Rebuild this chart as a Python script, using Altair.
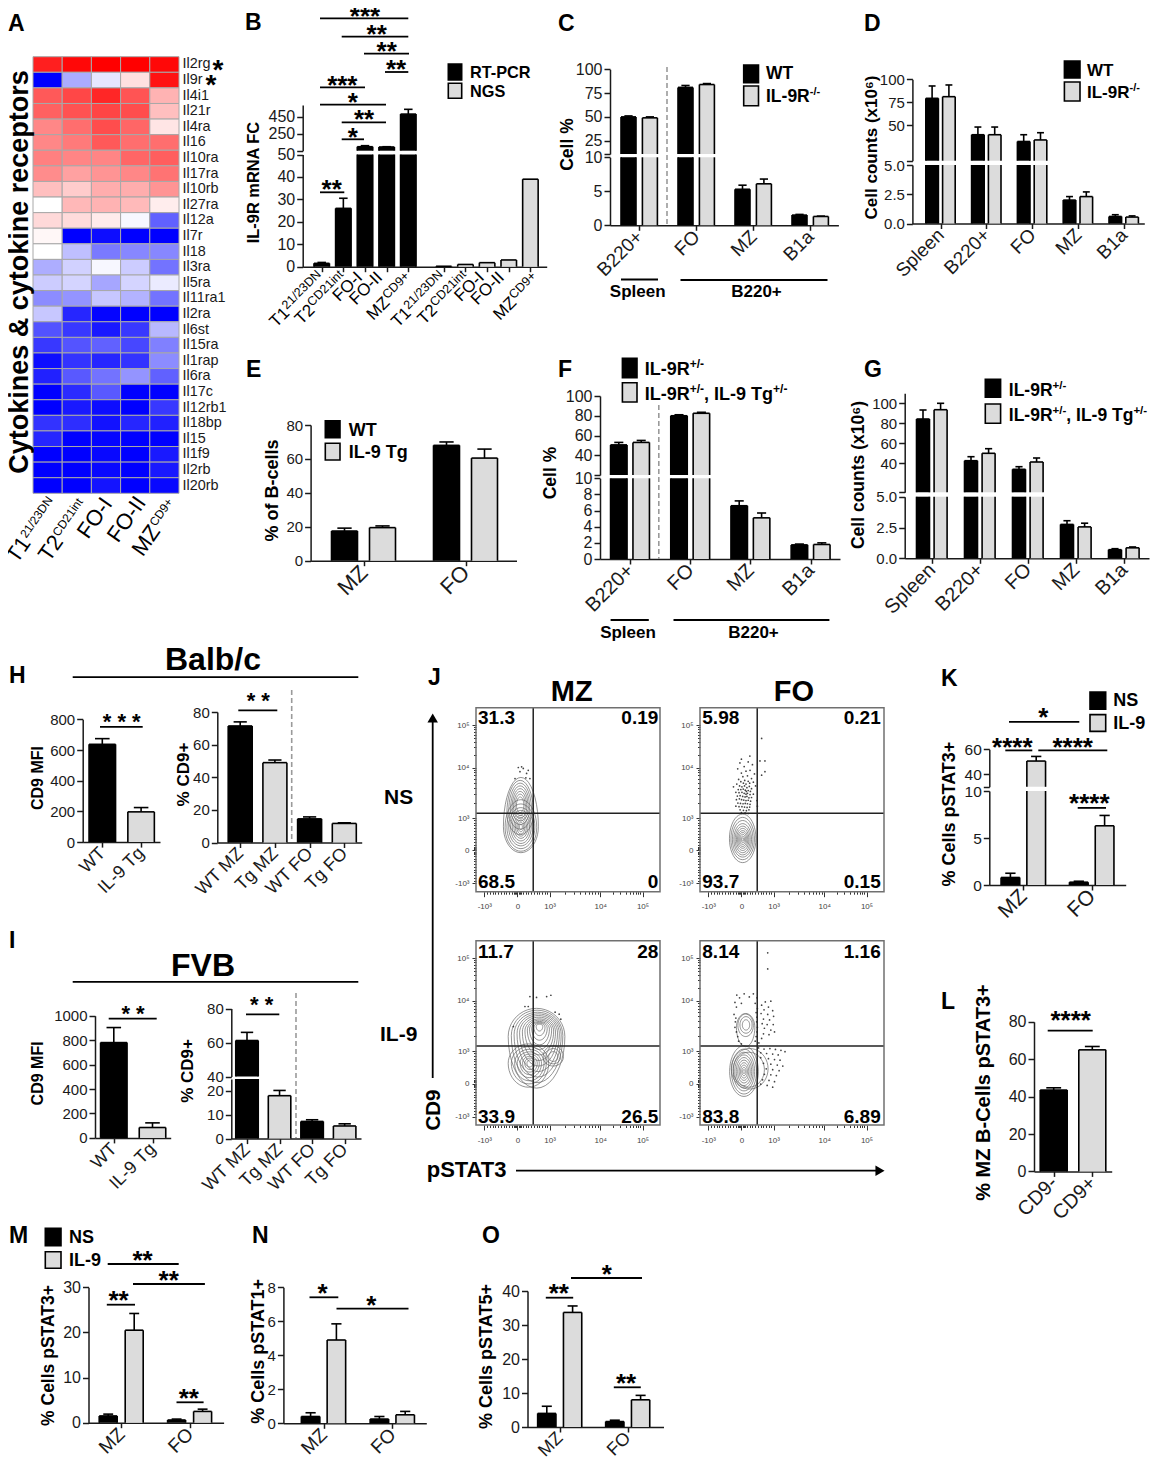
import math, json
import numpy as np
import pandas as pd
import altair as alt

FONT = "Liberation Sans"
BLACK = "#000000"
GRAY = "#dcdcdc"
INK = "#1a1a1a"
W, H = 1142, 1451

# ---------- Panel A ----------
A_rows = ["Il2rg","Il9r","Il4i1","Il21r","Il4ra","Il16","Il10ra","Il17ra","Il10rb","Il27ra","Il12a","Il7r","Il18","Il3ra",
          "Il5ra","Il11ra1","Il2ra","Il6st","Il15ra","Il1rap","Il6ra","Il17c","Il12rb1","Il18bp","Il15","Il1f9","Il2rb","Il20rb"]
A_cols = ["T1","T2","FO-I","FO-II","MZ"]
A_vals = [
 [.88,.97,1,1,.97],[-1,-.33,-.1,.12,.93],[.65,.72,.85,.67,.3],[.62,.68,.73,.7,.25],[.47,.57,.7,.6,.1],
 [.47,.52,.65,.57,.57],[.5,.48,.48,.6,.63],[.45,.37,.42,.47,.55],[.25,.2,.32,.32,.42],[0,.28,.3,.27,.07],
 [.15,.14,.08,-.03,-.62],[.03,-1,-.95,-1,-1],[0,-.25,-.52,-.47,-.47],[-.32,-.18,-.03,-.2,-.55],[-.2,-.17,-.35,-.17,-.08],
 [-.45,-.42,-.22,-.3,-.55],[-.22,-.85,-.98,-1,-1],[-.68,-.78,-.9,-.78,-.28],[-.78,-.67,-.62,-.72,-.5],[-.95,-.8,-.85,-.8,-.45],
 [-.87,-.65,-.55,-.42,-.62],[-1,-.83,-.65,-1,-1],[-1,-.9,-.95,-1,-.78],[-.8,-.82,-.93,-.85,-.87],[-.85,-1,-.98,-1,-1],
 [-1,-1,-.97,-1,-.9],[-1,-1,-.97,-1,-.9],[-1,-1,-.92,-1,-.97]]

# ---------- Bar panels: heights and upper error limits ----------
B_vals = [1.5,26,103,100,480,.2,1,1.8,3,39]
B_tops = [1.9,30.5,115,103,535,.2,1,1.8,3,39]
C_groups = ["B220+","FO","MZ","B1a"]
C_wt, C_wt_top = [50,81,5.3,1.5],[51,83,5.9,1.6]
C_ko, C_ko_top = [49,84,6.1,1.3],[50,85,6.8,1.35]
D_groups = ["Spleen","B220+","FO","MZ","B1a"]
D_wt, D_wt_top = [79.2,39.4,32,2.0,.6],[92.7,47.8,39.4,2.3,.75]
D_ko, D_ko_top = [81,39.4,33.7,2.3,.55],[93.8,47.8,41.6,2.7,.65]
E_groups = ["MZ","FO"]
E_wt, E_wt_top = [17.5,68],[19.2,70]
E_tg, E_tg_top = [19.5,60.5],[20.5,65.8]
F_het, F_het_top = [50.5,80,6.6,1.75],[53,81,7.2,1.85]
F_tg, F_tg_top = [53,82.5,5.1,1.8],[55,83.5,5.7,2.0]
G_het, G_het_top = [84.3,42.6,34,2.75,.7],[93.3,46.6,36.6,3.05,.78]
G_tg, G_tg_top = [93.6,50,41.3,2.55,.85],[100,54.6,45.3,2.85,.92]
H1_groups = ["WT","IL-9 Tg"]
H1_vals, H1_tops = [637,197],[674,225]
H2_groups = ["WT MZ","Tg MZ","WT FO","Tg FO"]
H2_vals, H2_tops = [71.5,49,14.5,11.7],[74,50.6,15.7,12.1]
I1_vals, I1_tops = [780,85],[903,123]
I2_vals, I2_tops = [61.2,18,7.2,5.3],[66,20.2,7.9,6.2]
K_groups = ["MZ","FO"]
K_ns, K_ns_top = [.8,.3],[1.25,.4]
K_il9, K_il9_top = [50.6,6.3],[54.3,7.4]
L_groups = ["CD9-","CD9+"]
L_vals, L_tops = [43.5,65],[44.7,66.8]
M_ns, M_ns_top = [1.5,.6],[1.9,.8]
M_il9, M_il9_top = [20.5,2.5],[24.2,3]
N_ns, N_ns_top = [.4,.25],[.62,.4]
N_il9, N_il9_top = [4.9,.5],[5.85,.7]
O_ns, O_ns_top = [4,1.6],[6.1,2]
O_il9, O_il9_top = [33.7,8],[35.6,9.3]

# ---------- Panel J: contour rings (centre x, centre y, half width, up, down) in channel units, and events ----------
J_ticks = [45,225,400,675,905]
J_tick_labels = ["-10\u00b3","0","10\u00b3","10\u2074","10\u2075"]
J_mz_ns_rings = [(244,353,95,268,141),(244,350,86,150,130),(244,352,76,125,118),(244,352,66,105,103),(244,352,56,90,90),(244,352,47,76,76),
 (244,352,38,62,62),(244,352,30,50,50),(244,352,22,38,38),(244,352,15,26,26),(244,352,8,15,15),
 (240,430,72,175,120),(240,440,62,150,100),(240,450,52,125,85),(240,455,44,105,70),(240,460,36,85,60),(240,465,28,65,50),(240,470,20,45,40)]
J_mz_ns_dots = [(230,675),(248,679),(257,670),(239,652),(275,643),(293,615),(271,619),(212,615),(284,660)]
J_fo_ns_rings = [(232,288,72,134,130),(232,286,64,118,112),(232,285,56,102,97),(232,284,48,86,84),(232,284,41,72,72),(232,284,34,60,60),
 (232,284,28,48,48),(232,284,22,38,38),(232,284,16,28,28),(232,284,10,18,18),(232,284,5,9,9)]
J_fo_ns_dots = [(335,833),(326,711),(353,711),(335,633),(353,652),(271,737),(217,700),(225,720),(262,705),(285,690),(240,680),(205,668),(250,655),(272,660),
 (225,645),(296,640),(233,625),(258,630),(210,610),(280,615),(243,605),(222,598),(262,600),(200,585),(236,590),(250,585),(270,590),(290,595),
 (182,570),(215,575),(228,570),(242,575),(255,565),(268,572),(280,560),(302,575),(208,555),(222,555),(235,558),(246,552),(252,545),(262,550),
 (274,545),(195,540),(212,538),(228,540),(240,535),(250,530),(258,535),(272,528),(290,530),(203,520),(218,522),(232,518),(245,515),(255,518),
 (266,510),(280,512),(198,500),(214,505),(226,500),(238,498),(250,495),(262,497),(275,492),(310,495),(206,482),(220,480),(234,478),(246,480),
 (258,478),(272,475),(195,465),(212,462),(228,462),(242,460),(256,458),(270,460),(312,465),(218,445),(236,442),(252,440),(266,445),(225,430),(245,428),(262,425)]
J_mz_il9_rings = [(329,480,154,153,280),(332,485,140,138,255),(335,490,128,122,230),(338,495,115,108,205),(340,500,103,94,180),(342,505,90,80,155),
 (344,510,78,66,130),(345,515,66,54,105),(345,520,54,42,85),(345,525,42,32,65),(345,530,30,22,45),(345,535,18,12,25),
 (285,335,110,105,130),(287,335,95,90,112),(290,335,80,76,95),(290,335,66,62,78),(292,335,52,50,62),(293,335,40,38,48),(293,335,28,28,34),(293,335,16,18,20),
 (420,370,55,60,50),(420,370,40,45,38),(420,370,25,28,25)]
J_mz_il9_dots = [(293,697),(329,692),(384,697),(407,704),(266,643),(284,643),(203,534),(430,612),(452,601),(461,574)]
J_fo_il9_rings = [(239,290,78,140,135),(239,290,68,122,122),(239,290,58,105,105),(239,290,50,90,90),(239,290,42,76,76),(239,290,34,62,62),
 (239,290,26,48,48),(239,290,19,35,35),(239,290,12,22,22),(239,290,6,11,11),(270,305,100,110,110),(265,300,85,95,95),
 (250,543,33,45,45),(250,543,20,28,28),(248,530,50,75,105),(248,540,42,62,60)]
J_fo_il9_dots = [(368,934),(368,847),(200,705),(240,712),(290,712),(215,690),(268,695),(310,690),(355,668),(385,672),(190,665),(225,660),(300,660),(335,650),
 (372,640),(198,640),(312,632),(348,625),(395,620),(305,610),(332,605),(368,600),(400,590),(185,600),(195,580),(310,585),(345,575),(378,570),
 (192,560),(308,560),(338,550),(365,545),(398,545),(190,530),(312,530),(350,525),(385,515),(405,505),(198,505),(310,505),(345,495),(375,490),
 (205,480),(305,480),(335,470),(210,455),(300,455),(320,445),(225,440),(318,418),(348,412),(380,415),(410,410),(440,405),(462,398),(330,392),
 (362,388),(395,385),(425,380),(330,365),(372,360),(405,355),(435,352),(345,335),(385,330),(420,325),(450,320),(360,305),(395,300),(430,295),
 (350,275),(385,272),(415,268),(340,245),(375,242),(405,235),(330,222),(365,215),(395,205)]

# ---------- page annotations ----------
def P(v):
    return v - 8

layers = []

def bars(vals, tops, fills, axis_x, end_x, g0, gs, off, w, segs, title=None, title_x=0, title_cy=0, title_size=16,
         tick_size=16, lab_size=16, groups=None, pos=None):
    n = len(vals)
    ng = len(vals[0])
    pos = pos if pos is not None else list(range(ng))
    u0, u1 = (axis_x - g0) / gs, (end_x - g0) / gs
    xscale = alt.Scale(domain=[u0, u1], range=[P(axis_x), P(end_x)], nice=False, zero=False)
    hw = w / 2 / gs
    cap = hw * 0.55
    for k, seg in enumerate(segs):
        rects, lines = [], []
        lo, hi = seg["lo"], seg["hi"]
        for j in range(n):
            so = (off * (2 * j - (n - 1)) / max(n - 1, 1)) / gs
            for g in range(ng):
                v, t = vals[j][g], tops[j][g]
                fill = fills[j][g] if isinstance(fills[j], list) else fills[j]
                c = pos[g] + so
                if v > lo:
                    top = min(v, hi)
                    rects.append(dict(x0=c - hw, x1=c + hw, y0=lo, y1=top, c=fill))
                    lines.append(dict(x0=c - hw, x1=c - hw, y0=lo, y1=top))
                    lines.append(dict(x0=c + hw, x1=c + hw, y0=lo, y1=top))
                    if v <= hi:
                        lines.append(dict(x0=c - hw, x1=c + hw, y0=v, y1=v))
                if t > v and lo < t <= hi:
                    lines.append(dict(x0=c, x1=c, y0=v, y1=t))
                    lines.append(dict(x0=c - cap, x1=c + cap, y0=t, y1=t))
        yscale = alt.Scale(domain=[lo, hi], range=[P(seg["r"][0]), P(seg["r"][1])], nice=False, zero=False)
        kw = dict(orient="left", offset=-P(axis_x), values=seg["ticks"], format=seg.get("fmt", "d"), grid=False,
                  domainColor=INK, domainWidth=1.5, tickColor=INK, tickWidth=1.5, tickSize=6, labelFont=FONT,
                  labelFontSize=tick_size, labelColor=INK, labelPadding=2, labelOverlap=False, labelBound=False)
        if seg.get("hide_lo"):
            kw["labelExpr"] = f"datum.value == {lo} ? '' : datum.label"
        if title and k == 0:
            kw.update(title=title, titleX=title_x - axis_x, titleY=P(title_cy), titleFont=FONT, titleFontSize=title_size,
                      titleFontWeight="bold", titleColor="black", titleAngle=270, titleBaseline="middle", titleAlign="center")
        else:
            kw["title"] = ""
        if k == 0:
            xk = dict(orient="bottom", offset=P(seg["r"][0]) - H, values=pos, grid=False, title="", domainColor=INK,
                      domainWidth=1.5, tickColor=INK, tickWidth=1.5, tickSize=5, labelOverlap=False, labelBound=False,
                      labelFlush=False)
            if groups:
                xk.update(labelExpr=json.dumps(groups) + "[datum.value]", labelAngle=315, labelAlign="right", labelBaseline="middle",
                          labelFont=FONT, labelFontSize=lab_size, labelColor=INK, labelPadding=3, labelLimit=200)
            else:
                xk.update(labels=False)
            xaxis = alt.Axis(**xk)
        else:
            xaxis = None
        rect = alt.Chart(pd.DataFrame(rects)).mark_rect().encode(
            x=alt.X("x0:Q", scale=xscale, axis=xaxis), x2="x1:Q",
            y=alt.Y("y0:Q", scale=yscale, axis=alt.Axis(**kw)), y2="y1:Q",
            color=alt.Color("c:N", scale=None))
        rule = alt.Chart(pd.DataFrame(lines)).mark_rule(color="black", strokeWidth=1.6).encode(
            x=alt.X("x0:Q", scale=xscale, axis=None), x2="x1:Q",
            y=alt.Y("y0:Q", scale=yscale, axis=None), y2="y1:Q")
        layers.append(alt.layer(rect, rule).resolve_axis(x="independent", y="independent"))

# ----- A heatmap
rows = [dict(row=r, col=c, v=A_vals[i][j]) for i, r in enumerate(A_rows) for j, c in enumerate(A_cols)]
heat = alt.Chart(pd.DataFrame(rows)).mark_rect(stroke="#a8a8a8", strokeWidth=1).encode(
    x=alt.X("col:N", sort=A_cols, scale=alt.Scale(domain=A_cols, range=[P(33), P(179)], paddingInner=0, paddingOuter=0),
            axis=alt.Axis(orient="bottom", labels=False, ticks=False, domain=False, title="", grid=False)),
    y=alt.Y("row:N", sort=A_rows, scale=alt.Scale(domain=A_rows, range=[P(56.7), P(493.3)], paddingInner=0, paddingOuter=0),
            axis=alt.Axis(orient="right", offset=P(179) - W, ticks=False, domain=False, title="", grid=False, labelFont=FONT,
                          labelFontSize=14.4, labelColor=INK, labelPadding=3, labelOverlap=False, labelBound=False)),
    color=alt.Color("v:Q", scale=alt.Scale(domain=[-1, 0, 1], range=["#0000ff", "#ffffff", "#ff0000"], interpolate="rgb"), legend=None))
layers.append(heat)

# ----- bar panels
bars([B_vals], [B_tops], [[BLACK]*5 + [GRAY]*5], 302.7, 546.7, 321.7, 21.65, 0, 15.5,
     [dict(lo=0, hi=50, r=(266.7, 154.5), ticks=[0,10,20,30,40,50]),
      dict(lo=57, hi=585, r=(150.7, 105), ticks=[57,250,450], hide_lo=True)],
     "IL-9R mRNA FC", 253, 182, 16.4, 16, pos=[0,1,2,3,4,5.64,6.64,7.64,8.64,9.64])
bars([C_wt, C_ko], [C_wt_top, C_ko_top], [BLACK, GRAY], 610, 838.4, 639.2, 57, 10.7, 15,
     [dict(lo=0, hi=10, r=(225.3, 157.3), ticks=[0,5,10]),
      dict(lo=11, hi=100, r=(154, 69.3), ticks=[11,25,50,75,100], hide_lo=True)],
     "Cell %", 567.5, 144, 17.5, 16, 19, groups=C_groups)
bars([D_wt, D_ko], [D_wt_top, D_ko_top], [BLACK, GRAY], 912.4, 1144.3, 940.5, 45.8, 8.4, 12.6,
     [dict(lo=0, hi=5, r=(223.5, 165), ticks=[0,2.5,5], fmt=".1f"),
      dict(lo=11, hi=100, r=(160.7, 79.3), ticks=[11,50,75,100], hide_lo=True)],
     "Cell counts (x10\u2076)", 871, 147, 17, 15, 19, groups=D_groups)
bars([E_wt, E_tg], [E_wt_top, E_tg_top], [BLACK, GRAY], 310.6, 516.5, 363.5, 102, 19, 26,
     [dict(lo=0, hi=80, r=(560.7, 425), ticks=[0,20,40,60,80])],
     "% of B-cells", 272.4, 490, 18, 15, 22, groups=E_groups)
bars([F_het, F_tg], [F_het_top, F_tg_top], [BLACK, GRAY], 600, 840, 630, 60.2, 11.2, 16.5,
     [dict(lo=0, hi=10, r=(559, 478.3), ticks=[0,2,4,6,8,10]),
      dict(lo=20, hi=100, r=(475, 396), ticks=[20,40,60,80,100], hide_lo=True)],
     "Cell %", 550.6, 472.5, 17.5, 16, 20, groups=C_groups)
bars([G_het, G_tg], [G_het_top, G_tg_top], [BLACK, GRAY], 904.7, 1149, 931.8, 48, 8.8, 13,
     [dict(lo=0, hi=5, r=(558.3, 496.7), ticks=[0,2.5,5], fmt=".1f"),
      dict(lo=11, hi=110, r=(492.3, 393.3), ticks=[11,40,60,80,100], hide_lo=True)],
     "Cell counts (x10\u2076)", 858.8, 474.5, 17.5, 15, 20, groups=D_groups)
bars([H1_vals], [H1_tops], [[BLACK, GRAY]], 82.7, 160, 102.3, 38.8, 0, 26.5,
     [dict(lo=0, hi=800, r=(842.1, 719.3), ticks=[0,200,400,600,800])],
     "CD9 MFI", 37.7, 777.5, 16, 15, 18, groups=H1_groups)
bars([H2_vals], [H2_tops], [[BLACK, GRAY, BLACK, GRAY]], 217.3, 361.7, 240.2, 34.7, 0, 24,
     [dict(lo=0, hi=80, r=(842.5, 712.1), ticks=[0,20,40,60,80])],
     "% CD9+", 183.3, 774, 17, 15, 18, groups=H2_groups)
bars([I1_vals], [I1_tops], [[BLACK, GRAY]], 95, 170.7, 113.8, 38.7, 0, 26.5,
     [dict(lo=0, hi=1000, r=(1137.9, 1015.7), ticks=[0,200,400,600,800,1000])],
     "CD9 MFI", 37.7, 1072.9, 16, 15, 18, groups=H1_groups)
bars([I2_vals], [I2_tops], [[BLACK, GRAY, BLACK, GRAY]], 231.3, 361, 247, 32.55, 0, 22.5,
     [dict(lo=0, hi=25, r=(1138.6, 1079), ticks=[0,10,20]),
      dict(lo=40, hi=80, r=(1076.5, 1008.6), ticks=[40,60,80])],
     "% CD9+", 187.3, 1070.4, 17, 15, 18, groups=H2_groups)
bars([K_ns, K_il9], [K_ns_top, K_il9_top], [BLACK, GRAY], 989.3, 1125.7, 1023.3, 68.4, 12.9, 18.7,
     [dict(lo=0, hi=10, r=(885, 791), ticks=[0,5,10]),
      dict(lo=30, hi=60, r=(786.8, 749.3), ticks=[30,40,60], hide_lo=True)],
     "% Cells pSTAT3+", 949.3, 813.6, 18, 15.5, 21, groups=K_groups)
bars([L_vals], [L_tops], [[BLACK, GRAY]], 1034, 1111.7, 1053.7, 38.6, 0, 27,
     [dict(lo=0, hi=80, r=(1171.4, 1021.8), ticks=[0,20,40,60,80])],
     "% MZ B-Cells pSTAT3+", 983.3, 1092, 20, 16, 20, groups=L_groups)
bars([M_ns, M_il9], [M_ns_top, M_il9_top], [BLACK, GRAY], 88.5, 223.6, 121.2, 68.4, 13, 18,
     [dict(lo=0, hi=30, r=(1422.7, 1287.3), ticks=[0,10,20,30])],
     "% Cells pSTAT3+", 48.8, 1355, 17.5, 16, 19, groups=K_groups)
bars([N_ns, N_il9], [N_ns_top, N_il9_top], [BLACK, GRAY], 283.4, 426.3, 323.5, 68.8, 12.9, 18.5,
     [dict(lo=0, hi=8, r=(1423.3, 1287.3), ticks=[0,2,4,6,8])],
     "% Cells pSTAT1+", 258, 1350.8, 18, 15, 19, groups=K_groups)
bars([O_ns, O_il9], [O_ns_top, O_il9_top], [BLACK, GRAY], 527.5, 663.5, 559.7, 68, 12.9, 18.3,
     [dict(lo=0, hi=40, r=(1427, 1291), ticks=[0,10,20,30,40])],
     "% Cells pSTAT5+", 486, 1356, 18, 16, 18, groups=K_groups)

# ----- J flow panels
J_minor = sorted(set([60, 75, 90, 105, 120, 135, 150, 165, 180, 195, 205, 212, 218, 225, 232, 238, 245, 255, 270, 285, 300, 315, 330, 345, 360, 375, 388] +
                     [round(400 + 275 * math.log10(k)) for k in range(2, 10)] + [round(675 + 230 * math.log10(k)) for k in range(2, 10)]))

def flow(x0, x1, y0, y1, rings, dots, vline, hline):
    xs = alt.Scale(domain=[0, 1000], range=[P(x0), P(x1)], nice=False, zero=False)
    ys = alt.Scale(domain=[0, 1000], range=[P(y1), P(y0)], nice=False, zero=False)
    expr = f"{json.dumps(J_tick_labels)}[indexof({json.dumps(J_ticks)}, datum.value)]"
    style = dict(grid=False, domain=False, title="", tickColor="#333333", tickWidth=1, labelFont=FONT, labelFontSize=8,
                 labelColor="#444444", labelOverlap=False, labelBound=False)
    major_x = alt.Axis(orient="bottom", offset=P(y1) - H, values=J_ticks, labelExpr=expr, tickSize=5, labelPadding=6, **style)
    major_y = alt.Axis(orient="left", offset=-P(x0), values=J_ticks, labelExpr=expr, tickSize=4, labelPadding=3, **style)
    minor_x = alt.Axis(orient="bottom", offset=P(y1) - H, values=J_minor, labels=False, tickSize=2.5, grid=False, domain=False,
                       title="", tickColor="#333333", tickWidth=1)
    minor_y = alt.Axis(orient="left", offset=-P(x0), values=J_minor, labels=False, tickSize=2.5, grid=False, domain=False,
                       title="", tickColor="#333333", tickWidth=1)
    pts = []
    for r, (cx, cy, rx, up, down) in enumerate(rings):
        for i, t in enumerate(np.linspace(0, 2 * np.pi, 41)):
            s = math.sin(t)
            pts.append(dict(ring=r, i=i, x=cx + rx * math.cos(t), y=cy + (up if s > 0 else down) * s))
    contour = alt.Chart(pd.DataFrame(pts)).mark_line(color="#666666", strokeWidth=0.7).encode(
        x=alt.X("x:Q", scale=xs, axis=major_x), y=alt.Y("y:Q", scale=ys, axis=major_y),
        detail="ring:N", order="i:Q")
    ev = pd.DataFrame(dots, columns=["x", "y"])
    events = alt.Chart(ev).mark_circle(color="#222222", size=3, opacity=0.85).encode(
        x=alt.X("x:Q", scale=xs, axis=minor_x), y=alt.Y("y:Q", scale=ys, axis=minor_y))
    cross = pd.DataFrame([dict(x0=vline, x1=vline, y0=0, y1=1000), dict(x0=0, x1=1000, y0=hline, y1=hline)])
    rule = alt.Chart(cross).mark_rule(color="#222222", strokeWidth=1.5).encode(
        x=alt.X("x0:Q", scale=xs, axis=None), x2="x1:Q", y=alt.Y("y0:Q", scale=ys, axis=None), y2="y1:Q")
    frame = alt.Chart(pd.DataFrame([dict(x0=0, x1=1000, y0=0, y1=1000)])).mark_rect(fillOpacity=0, stroke="#707070", strokeWidth=1.5).encode(
        x=alt.X("x0:Q", scale=xs, axis=None), x2="x1:Q", y=alt.Y("y0:Q", scale=ys, axis=None), y2="y1:Q")
    layers.append(alt.layer(contour, events, rule, frame).resolve_axis(x="independent", y="independent"))

flow(476, 660, 707.7, 891.7, J_mz_ns_rings, J_mz_ns_dots, 311, 426)
flow(700, 884, 707.7, 891.7, J_fo_ns_rings, J_fo_ns_dots, 311, 426)
flow(476, 660, 940.7, 1125, J_mz_il9_rings, J_mz_il9_dots, 311, 428)
flow(700, 884, 940.7, 1125, J_fo_il9_rings, J_fo_il9_dots, 311, 428)

# ----- page-level annotation layer
texts, lines, dashes, swatches, heads = [], [], [], [], []

def T(x, y, s, size, weight="bold", align="left", angle=0):
    texts.append(dict(x=x, y=y, t=s, size=size, weight=weight, align=align, angle=angle))

def sig(x0, x1, y, sx, sy, stars, size=26):
    lines.append(dict(x0=x0, x1=x1, y0=y, y1=y))
    T(sx, sy + 0.48 * size, stars, size, "bold", "center")

EM = {"I":.278,"L":.611,"-":.333,"9":.556,"R":.722,"+":.584,"/":.278,",":.278," ":.278,"T":.611,"g":.611,"D":.722,"N":.722,"C":.722,
      "i":.222,"n":.556,"t":.278}
def tw(s, size):
    return sum(EM.get(c, .556) for c in s) * size

def rot(ex, ey, base, sup, bs, ss, a):
    ca, sa = math.cos(math.radians(a)), math.sin(math.radians(a))
    if sup:
        T(ex, ey, sup, ss, "normal", "right", 360 - a)
        L = tw(sup, ss) + 0.5
        rise = 0.32 * bs
        T(ex - ca * L + sa * rise, ey + sa * L + ca * rise, base, bs, "normal", "right", 360 - a)
    else:
        T(ex, ey, base, bs, "normal", "right", 360 - a)

def legend(x0, x1, y0, y1, fill, tx, cy, parts, size=17, sup=11):
    swatches.append(dict(x0=x0, x1=x1, y0=y0, y1=y1, c=fill))
    x = tx
    base = cy + 0.36 * size
    for kind, s in parts:
        if kind == "b":
            T(x, base, s, size)
            x += tw(s, size)
        else:
            T(x, base - 0.4 * size, s, sup)
            x += tw(s, sup)

for s, x, y in [("A",8,31),("B",245,30),("C",558,31),("D",864,31),("E",246,377),("F",558,377),("G",864,377),("H",9,683),("I",9,948),
                ("J",428,685),("K",941,686),("L",941,1009),("M",9,1243),("N",252,1243),("O",482,1243)]:
    T(x, y, s, 23)

T(28, 272, "Cytokines & cytokine receptors", 27, "bold", "center", 270)
T(218, 65 + 14, "*", 28, "bold", "center")
T(211, 80 + 14, "*", 28, "bold", "center")

for (ex, ey, b, s) in [(53.3,500,"T1","21/23DN"),(83.3,501.7,"T2","CD21int"),(113.3,504,"FO-I",""),(146.7,502.7,"FO-II",""),(173.3,501.7,"MZ","CD9+")]:
    rot(ex, ey, b, s, 22, 12, 55)
for (ex, ey, b, s) in [(321.7,275,"T1","21/23DN"),(344,275,"T2","CD21int"),(363.3,278.3,"FO-I",""),(383.3,278.3,"FO-II",""),(410,276.7,"MZ","CD9+"),
                       (443.3,275,"T1","21/23DN"),(466.7,275,"T2","CD21int"),(485,278.3,"FO-I",""),(505,278.3,"FO-II",""),(536.7,276.7,"MZ","CD9+")]:
    rot(ex, ey, b, s, 17, 12.5, 45)

# significance brackets
for a in [(320,408.3,18.3,365,12.3,"***"),(341.7,408.3,36.7,376.7,31,"**"),(364,409,53.7,386.7,47.7,"**"),(385,408.3,72,396,66,"**"),
          (320,365,87.3,342.3,81.7,"***"),(320,386,104.7,352.7,98.3,"*"),(341.7,386,122.3,364,116,"**"),(341.7,364,139.3,352.7,134,"*"),
          (320,344.3,192.3,331.7,186,"**"),
          (1009,1079.3,721.8,1043.3,713.6,"*"),(1005.3,1032.3,750.4,1012.3,743.2,"****"),(1038.3,1107.3,750.4,1072.7,743.2,"****"),
          (1077.7,1106,807.9,1089.3,799.3,"****"),(1047.7,1092.7,1030.7,1070.7,1016.4,"****"),
          (107.7,178.7,1264,142.5,1256.7,"**"),(133,204.9,1284,168.7,1276.7,"**"),(106.8,135,1304.7,118.6,1296.7,"**"),(176.5,203.6,1402.3,188.8,1395,"**"),
          (309.5,338.3,1297.3,322.6,1290,"*"),(336.5,408.5,1308.7,371.4,1301.7,"*"),
          (545.8,573.2,1297.7,558.8,1290,"**"),(571,642,1278,606.8,1270.7,"*"),(613.8,640.8,1387.3,626,1379.3,"**")]:
    sig(*a)
sig(100,142.7,726.8,121.7,718.6,"* * *",22)
sig(238.3,277.3,710.4,258.3,697,"* *",22)
sig(108.7,156.7,1018.6,133,1010.4,"* *",22)
sig(246,279.3,1014.3,261.7,1001.4,"* *",22)

# group rules and labels
lines += [dict(x0=621,x1=658,y0=279.5,y1=279.5),dict(x0=680.5,x1=827.5,y0=280,y1=280),dict(x0=610.6,x1=648.8,y0=620,y1=620),dict(x0=673.5,x1=829.4,y0=620,y1=620),
          dict(x0=72.7,x1=358.3,y0=677.1,y1=677.1),dict(x0=72.7,x1=358.3,y0=981.8,y1=981.8),
          dict(x0=432.7,x1=432.7,y0=722,y1=1078),dict(x0=516,x1=876,y0=1170.7,y1=1170.7)]
T(637.7, 297, "Spleen", 17, "bold", "center"); T(756.5, 297, "B220+", 17, "bold", "center")
T(628, 637.5, "Spleen", 17, "bold", "center"); T(753.5, 637.5, "B220+", 17, "bold", "center")
T(213, 670.4, "Balb/c", 32, "bold", "center"); T(203, 975.7, "FVB", 32, "bold", "center")
T(384, 804, "NS", 21); T(380, 1041, "IL-9", 21)
T(571.7, 700.7, "MZ", 29, "bold", "center"); T(794, 700.7, "FO", 29, "bold", "center")
T(440, 1110, "CD9", 20.5, "bold", "center", 270)
T(426.7, 1177, "pSTAT3", 22)
heads += [dict(x=432.7, y=718, s="triangle-up"), dict(x=880, y=1170.7, s="triangle-right")]

dashes += [dict(x0=667,x1=667,y0=67,y1=225),dict(x0=658.8,x1=658.8,y0=405,y1=559),dict(x0=291.7,x1=291.7,y0=690,y1=842),dict(x0=296,x1=296,y0=993,y1=1138)]

# quadrant percentages
for lx, rx, ty, by, q in [(478,658.3,724.3,888.3,("31.3","0.19","68.5","0")),(702.3,880.7,724.3,888.3,("5.98","0.21","93.7","0.15")),
                          (478,658.3,958.3,1123.3,("11.7","28","33.9","26.5")),(702.3,880.7,958.3,1123.3,("8.14","1.16","83.8","6.89"))]:
    T(lx, ty, q[0], 19); T(rx, ty, q[1], 19, "bold", "right"); T(lx, by, q[2], 19); T(rx, by, q[3], 19, "bold", "right")

# legends
legend(448.3,461.7,64,80,BLACK,470,71.7,[("b","RT-PCR")],16.3); legend(448.3,461.7,83.3,98.3,GRAY,470,90.7,[("b","NGS")],16.3)
legend(743.7,758.5,65,82.7,BLACK,766,73,[("b","WT")],17.5); legend(743.7,758.5,86,105.7,GRAY,766,96,[("b","IL-9R"),("s","-/-")],17.5)
legend(1064.4,1080,61,78,BLACK,1087,70,[("b","WT")],17); legend(1064.4,1080,82,101,GRAY,1087,92,[("b","IL-9R"),("s","-/-")],17)
legend(325.3,340,420.7,437.7,BLACK,348.8,429.3,[("b","WT")],18); legend(325.3,340,443.3,460,GRAY,348.8,451.7,[("b","IL-9 Tg")],18)
HET = [("b","IL-9R"),("s","+/-")]
TG = [("b","IL-9R"),("s","+/-"),("b",", IL-9 Tg"),("s","+/-")]
legend(622.4,637,358.3,377.7,BLACK,644.7,368.3,HET,18,12); legend(622.4,637,382.7,402,GRAY,644.7,393.3,TG,18,12)
legend(985.3,1000.6,379.3,397.3,BLACK,1008.8,389.3,HET,17.5,11.5); legend(985.3,1000.6,404,423.3,GRAY,1008.8,415,TG,17.5,11.5)
legend(1090,1105.7,692,709.3,BLACK,1113.3,700,[("b","NS")],18); legend(1090,1105.7,714.6,731.4,GRAY,1113.3,722.9,[("b","IL-9")],18)
legend(45.3,61,1228.3,1245.7,BLACK,68.9,1236.7,[("b","NS")],18); legend(45.3,61,1251.7,1268.3,GRAY,68.9,1260,[("b","IL-9")],18)

PX = alt.Scale(domain=[0, W + 8], range=[-8, W], nice=False, zero=False)
PY = alt.Scale(domain=[0, H + 8], range=[-8, H], nice=False, zero=False)
def px(f="x0"):
    return alt.X(f + ":Q", scale=PX, axis=None)
def py(f="y0"):
    return alt.Y(f + ":Q", scale=PY, axis=None)

layers.append(alt.Chart(pd.DataFrame(lines)).mark_rule(color="black", strokeWidth=1.8).encode(x=px(), x2="x1:Q", y=py(), y2="y1:Q"))
layers.append(alt.Chart(pd.DataFrame(dashes)).mark_rule(color="#9a9a9a", strokeWidth=1.6, strokeDash=[5, 3]).encode(x=px(), x2="x1:Q", y=py(), y2="y1:Q"))
layers.append(alt.Chart(pd.DataFrame(swatches)).mark_rect(stroke="black", strokeWidth=1.6).encode(x=px(), x2="x1:Q", y=py(), y2="y1:Q", color=alt.Color("c:N", scale=None)))
layers.append(alt.Chart(pd.DataFrame(heads)).mark_point(filled=True, color="black", size=110, opacity=1).encode(
    x=alt.X("x:Q", scale=PX, axis=None), y=alt.Y("y:Q", scale=PY, axis=None), shape=alt.Shape("s:N", scale=None)))
tdf = pd.DataFrame(texts)
for (al, wt), g in tdf.groupby(["align", "weight"]):
    layers.append(alt.Chart(g).mark_text(align=al, fontWeight=wt, font=FONT, baseline="alphabetic", color="black").encode(
        x=alt.X("x:Q", scale=PX, axis=None), y=alt.Y("y:Q", scale=PY, axis=None), text="t:N",
        size=alt.Size("size:Q", scale=None), angle=alt.Angle("angle:Q", scale=None)))

chart = alt.layer(*layers).resolve_scale(x="independent", y="independent").properties(
    width=W, height=H, padding=0, autosize=alt.AutoSizeParams(type="none")).configure_view(strokeWidth=0)
chart.save("out.html", embed_options={"renderer": "svg", "actions": False})
